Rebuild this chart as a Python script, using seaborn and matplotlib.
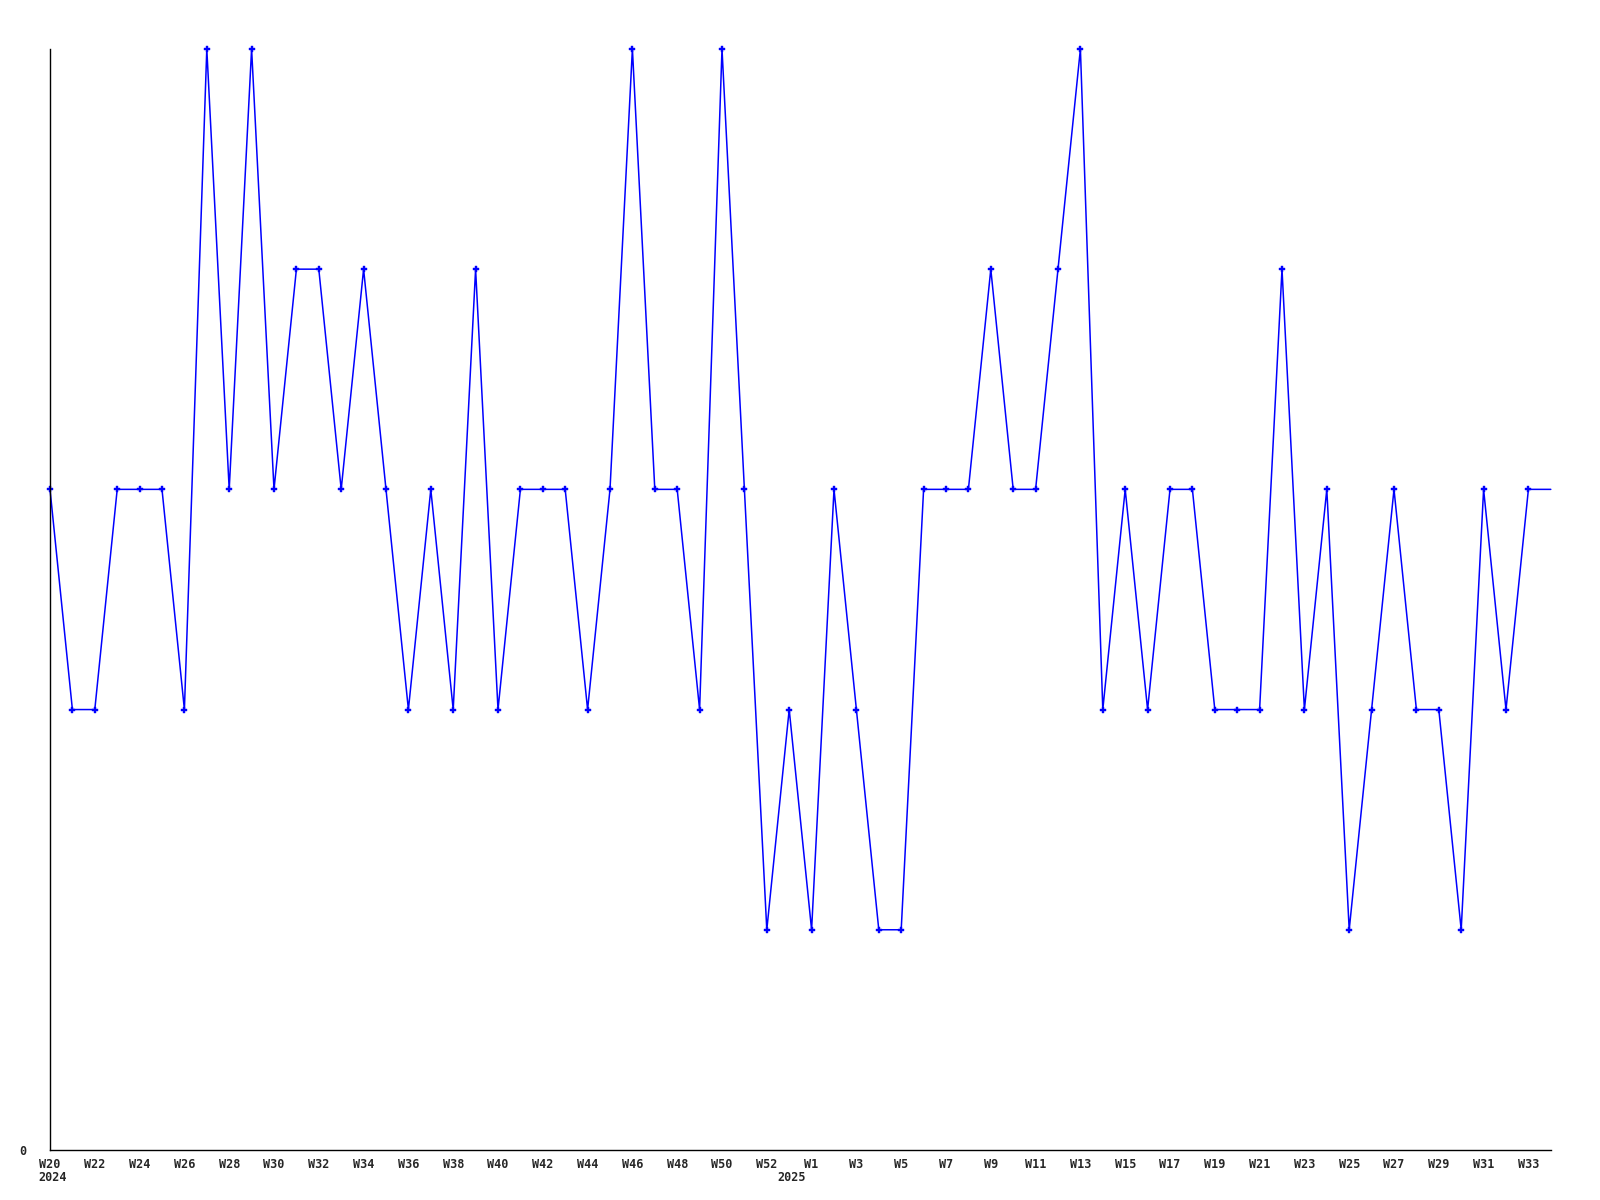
import matplotlib
matplotlib.use("Agg")
import matplotlib.pyplot as plt
import seaborn as sns
import pandas as pd

# weekly labels, W20 2024 .. W34 2025 (one unlabelled week at the year turn)
weeks = ([f"W{w}" for w in range(20, 53)] + ["W53"] +
         [f"W{w}" for w in range(1, 35)])
values = [3, 2, 2, 3, 3, 3, 2, 5, 3, 5,
          3, 4, 4, 3, 4, 3, 2, 3, 2, 4,
          2, 3, 3, 3, 2, 3, 5, 3, 3, 2,
          5, 3, 1, 2, 1, 3, 2, 1, 1, 3,
          3, 3, 4, 3, 3, 4, 5, 2, 3, 2,
          3, 3, 2, 2, 2, 4, 2, 3, 1, 2,
          3, 2, 2, 1, 3, 2, 3, 3]
years = {"2024": 0, "2025": 33}

df = pd.DataFrame({"idx": range(len(values)), "week": weeks, "value": values})

sns.set_style("white")
plt.rcParams["font.family"] = ["DejaVu Sans Mono", "DejaVu Sans"]

fig = plt.figure(figsize=(16, 12), dpi=100)
ax = fig.add_axes([0.03125, 0.0417, 0.938, 0.9175])

sns.lineplot(data=df, x="idx", y="value", color="#0000ff", linewidth=1.1,
             marker="P", markersize=4.5, markeredgewidth=0.3,
             markeredgecolor="#0000ff",
             markevery=list(range(len(values) - 1)), ax=ax, clip_on=False)

ax.set_xlim(0, len(values) - 1)
ax.set_ylim(0, 5)
ax.set_xticks(df["idx"][::2])
ax.set_xticklabels(df["week"][::2], fontsize=8.5, fontweight="bold")
ax.set_yticks([0])
ax.set_yticklabels(["0"], fontsize=8.5, fontweight="bold")
ax.tick_params(axis="x", length=0, pad=6)
ax.tick_params(axis="y", length=0, pad=17)
ax.set_xlabel("")
ax.set_ylabel("")

for name, pos in years.items():
    ax.annotate(name, xy=(pos, 0), xycoords=("data", "axes fraction"),
                xytext=(2, -15), textcoords="offset points",
                ha="center", va="top", fontsize=8.5, fontweight="bold")

for s in ["top", "right"]:
    ax.spines[s].set_visible(False)
for s in ["left", "bottom"]:
    ax.spines[s].set_color("black")
    ax.spines[s].set_linewidth(1)

fig.savefig("out.png", dpi=100, facecolor="white")
